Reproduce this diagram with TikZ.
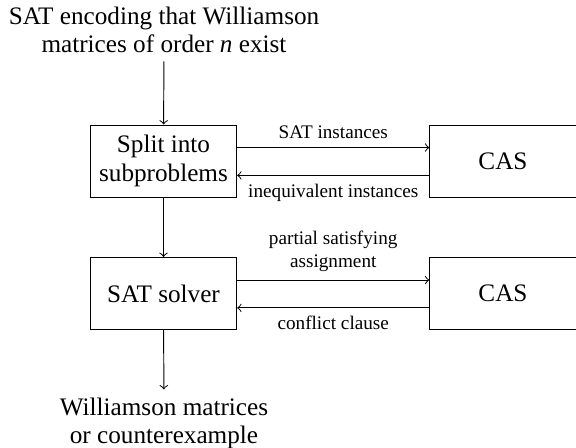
\documentclass[tikz,border=0pt]{standalone}
\usepackage{fontspec}
\setmainfont{Liberation Serif}
\tikzset{every picture/.style={line width=0.4pt}}
\tikzset{every node/.style={font=\fontsize{10.5}{11.8}\selectfont},
	blk/.style={draw, minimum width=61pt, minimum height=30pt, align=center, inner sep=2pt},
	lbl/.style={font=\footnotesize, align=center}}
\begin{document}
\begin{tikzpicture}[x=0.41667pt,y=0.41667pt,yscale=-1,xscale=1]
	\useasboundingbox (0,0) rectangle (576,448);

	% Text Node
	\node[align=center] (enc) at (164,30) {SAT encoding that Williamson\\matrices of order \textit{n} exist};
	% Blocks
	\node[blk] (split) at (163.5,161) {Split into\\subproblems};
	\node[blk] (cas1) at (503,161) {CAS};
	\node[blk] (solver) at (163.5,293.5) {SAT solver};
	\node[blk] (cas2) at (503,293.5) {CAS};
	% Text Node
	\node[align=center] (out) at (164,423.5) {Williamson matrices\\or counterexample};

	% Arrows
	\draw[->] (enc) -- (split);
	\draw[->] (split) -- (solver);
	\draw[->] (solver) -- (out);
	\draw[->] ([yshift=-5.6pt]split.east) -- node[lbl, above] {SAT instances} ([yshift=-5.6pt]cas1.west);
	\draw[->] ([yshift=6pt]cas1.west) -- node[lbl, below] {inequivalent instances} ([yshift=6pt]split.east);
	\draw[->] ([yshift=-5.6pt]solver.east) -- node[lbl, above] {partial satisfying\\assignment} ([yshift=-5.6pt]cas2.west);
	\draw[->] ([yshift=6pt]cas2.west) -- node[lbl, below] {conflict clause} ([yshift=6pt]solver.east);

\end{tikzpicture}
\end{document}
